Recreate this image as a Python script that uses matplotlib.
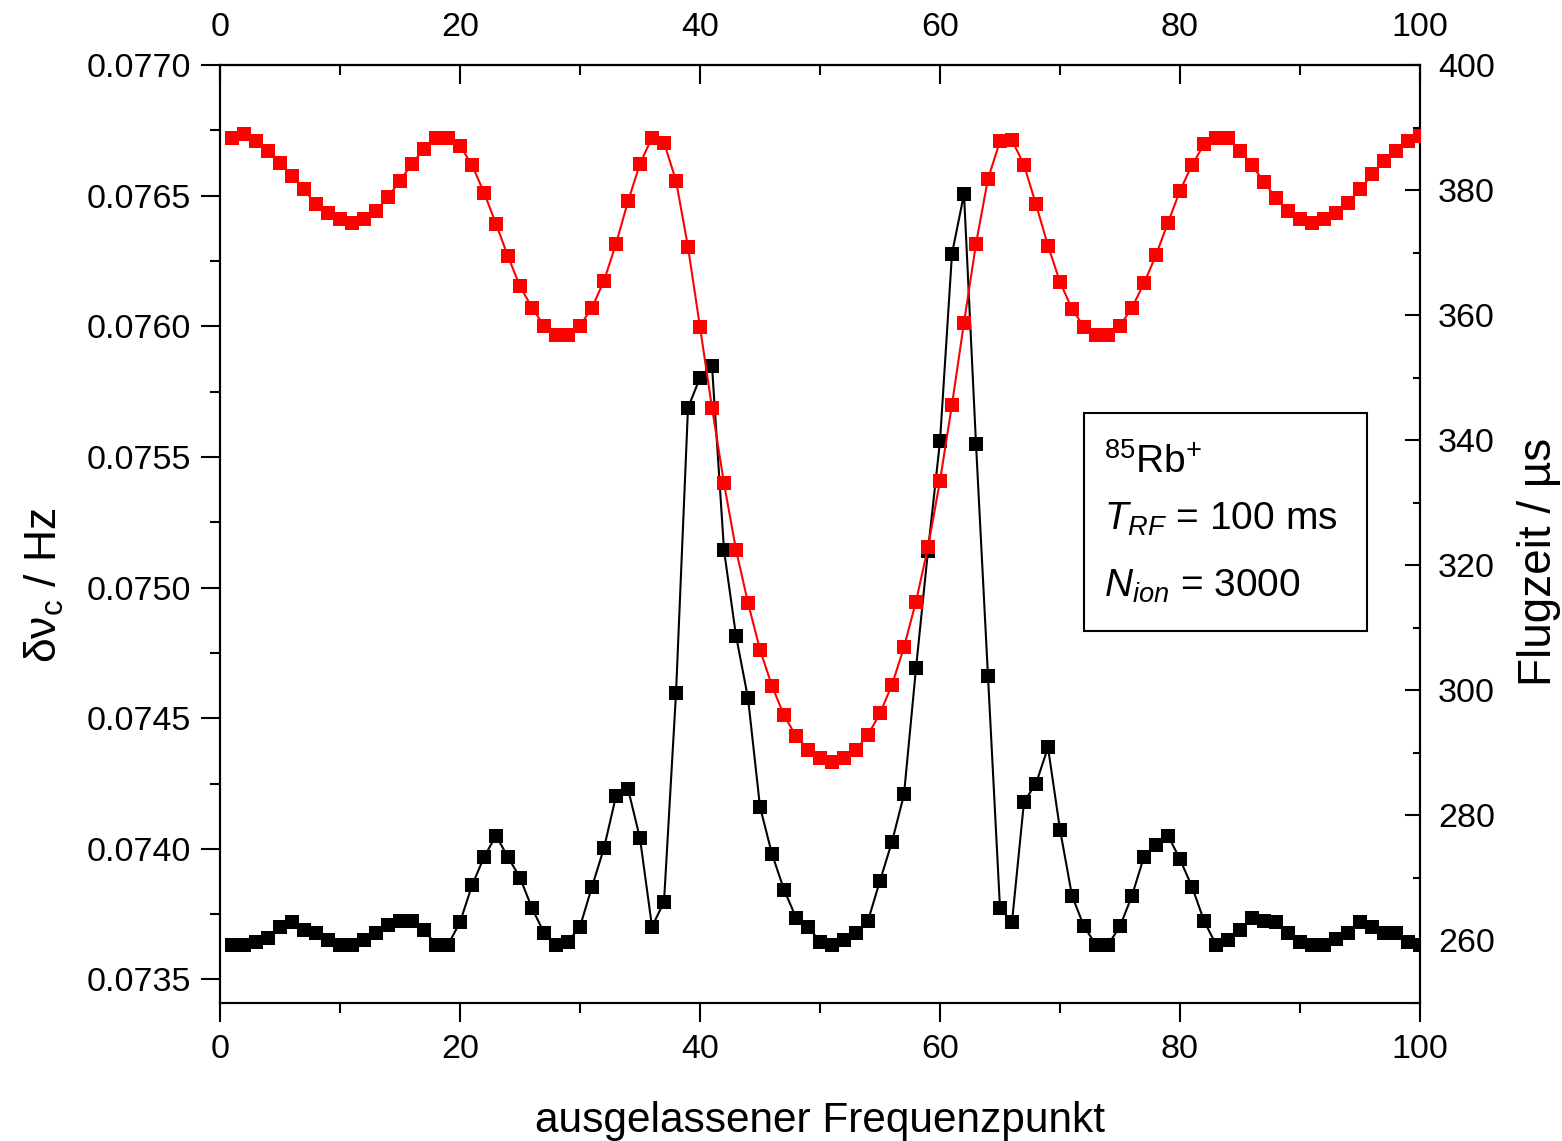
import matplotlib
matplotlib.use("Agg")
import matplotlib.pyplot as plt
from matplotlib.patches import Rectangle
from matplotlib.ticker import FixedLocator, FormatStrFormatter

plt.rcParams['font.family'] = ['Liberation Sans', 'DejaVu Sans']
plt.rcParams['mathtext.fontset'] = 'custom'
plt.rcParams['mathtext.rm'] = 'Liberation Sans'
plt.rcParams['mathtext.it'] = 'Liberation Sans:italic'
plt.rcParams['mathtext.bf'] = 'Liberation Sans:bold'

# ---- data ----
freq_point = list(range(1, 101))

delta_nu = [
    0.073633, 0.073633, 0.073645, 0.073657, 0.073702, 0.073719, 0.073690, 0.073679, 0.073651, 0.073633,
    0.073633, 0.073651, 0.073679, 0.073707, 0.073725, 0.073725, 0.073690, 0.073633, 0.073633, 0.073719,
    0.073860, 0.073968, 0.074051, 0.073968, 0.073890, 0.073773, 0.073679, 0.073633, 0.073645, 0.073702,
    0.073855, 0.074003, 0.074202, 0.074230, 0.074040, 0.073702, 0.073797, 0.074595, 0.075688, 0.075803,
    0.075849, 0.075143, 0.074816, 0.074577, 0.074161, 0.073980, 0.073844, 0.073737, 0.073702, 0.073645,
    0.073633, 0.073651, 0.073679, 0.073725, 0.073878, 0.074027, 0.074208, 0.074691, 0.075141, 0.075560,
    0.076278, 0.076506, 0.075550, 0.074660, 0.073773, 0.073720, 0.074180, 0.074250, 0.074388, 0.074074,
    0.073821, 0.073703, 0.073633, 0.073633, 0.073703, 0.073821, 0.073970, 0.074016, 0.074051, 0.073960,
    0.073855, 0.073725, 0.073633, 0.073651, 0.073690, 0.073737, 0.073725, 0.073720, 0.073679, 0.073645,
    0.073633, 0.073633, 0.073656, 0.073679, 0.073720, 0.073702, 0.073679, 0.073679, 0.073645, 0.073633,
]

flugzeit = [
    388.4, 389.0, 387.8, 386.3, 384.4, 382.3, 380.1, 377.7, 376.3, 375.3,
    374.8, 375.3, 376.7, 378.9, 381.5, 384.2, 386.6, 388.4, 388.4, 387.1,
    384.0, 379.6, 374.6, 369.4, 364.6, 361.2, 358.3, 356.9, 356.9, 358.3,
    361.2, 365.5, 371.4, 378.2, 384.2, 388.4, 387.6, 381.5, 370.9, 358.1,
    345.2, 333.1, 322.5, 314.0, 306.5, 300.7, 296.0, 292.7, 290.5, 289.1,
    288.5, 289.1, 290.5, 292.9, 296.3, 300.9, 306.9, 314.2, 322.9, 333.5,
    345.7, 358.8, 371.4, 381.8, 387.8, 388.0, 384.0, 377.7, 371.1, 365.3,
    361.0, 358.1, 356.9, 356.9, 358.3, 361.2, 365.1, 369.6, 374.8, 379.9,
    384.0, 387.3, 388.4, 388.4, 386.3, 384.0, 381.3, 378.7, 376.7, 375.3,
    374.8, 375.3, 376.3, 378.0, 380.1, 382.5, 384.7, 386.3, 387.8, 388.6,
]

x_ticks = [0, 20, 40, 60, 80, 100]
x_minor = [10, 30, 50, 70, 90]
left_ticks = [0.0735, 0.0740, 0.0745, 0.0750, 0.0755, 0.0760, 0.0765, 0.0770]
left_minor = [0.07350 + 0.00025 + 0.0005 * i for i in range(7)]
right_ticks = [260, 280, 300, 320, 340, 360, 380, 400]
right_minor = [250, 270, 290, 310, 330, 350, 370, 390]

legend_lines = [r'$^{85}$Rb$^{+}$', r'$T_{RF}$ = 100 ms', r'$N_{ion}$ = 3000']

# ---- figure ----
fig = plt.figure(figsize=(15.62, 11.41), dpi=100)
ax = fig.add_axes([220/1562, 1 - 1003/1141, 1200/1562, 938/1141])
ax2 = ax.twinx()

tick_fs = 24.5
lw_sp = 1.5

ax.plot(freq_point, delta_nu, color='black', lw=1.5, marker='s', ms=10.5,
        markeredgewidth=0, zorder=3)
ax2.plot(freq_point, flugzeit, color='#ff0000', lw=1.5, marker='s', ms=10.5,
         markeredgewidth=0, zorder=3)

ax.set_xlim(0, 100)
ax.set_ylim(0.07341, 0.0770)
ax2.set_ylim(250, 400)

ax.xaxis.set_major_locator(FixedLocator(x_ticks))
ax.xaxis.set_minor_locator(FixedLocator(x_minor))
ax.yaxis.set_major_locator(FixedLocator(left_ticks))
ax.yaxis.set_minor_locator(FixedLocator(left_minor))
ax.yaxis.set_major_formatter(FormatStrFormatter('%.4f'))
ax2.yaxis.set_major_locator(FixedLocator(right_ticks))
ax2.yaxis.set_minor_locator(FixedLocator(right_minor))

for a in (ax, ax2):
    for s in a.spines.values():
        s.set_linewidth(lw_sp)

ax.tick_params(axis='x', which='major', direction='out', length=14, width=1.5,
               labelsize=tick_fs, pad=8)
ax.tick_params(axis='x', which='minor', direction='out', length=7, width=1.5)
ax.tick_params(axis='y', which='major', direction='out', length=14, width=1.5,
               labelsize=tick_fs, pad=7)
ax.tick_params(axis='y', which='minor', direction='out', length=7, width=1.5)
ax2.tick_params(axis='y', which='major', direction='in', length=11, width=1.5,
                labelsize=tick_fs, pad=13)
ax2.tick_params(axis='y', which='minor', direction='in', length=5, width=1.5)

secx = ax.secondary_xaxis('top')
secx.xaxis.set_major_locator(FixedLocator(x_ticks))
secx.xaxis.set_minor_locator(FixedLocator(x_minor))
secx.tick_params(axis='x', which='major', direction='in', length=14, width=1.5,
                 labelsize=tick_fs, pad=16)
secx.tick_params(axis='x', which='minor', direction='in', length=7, width=1.5)
secx.spines['top'].set_linewidth(lw_sp)

ax.set_xlabel('ausgelassener Frequenzpunkt', fontsize=30.5, labelpad=26)
ax.set_ylabel(r'δν$_{\mathrm{c}}$ / Hz', fontsize=32)
ax.yaxis.set_label_coords(-0.128, 0.445)
ax2.set_ylabel('Flugzeit / µs', fontsize=33)
ax2.yaxis.set_label_coords(1.081, 0.47)

# info box
ax.add_patch(Rectangle((0.72, 0.397), 0.236, 0.232, transform=ax.transAxes,
                       fill=False, edgecolor='black', lw=1.5, zorder=5))
ys = [0.565, 0.505, 0.433]
for txt, yy in zip(legend_lines, ys):
    ax.text(0.737, yy, txt, transform=ax.transAxes, fontsize=28,
            va='baseline', ha='left', zorder=6)

fig.savefig('out.png', dpi=100)
